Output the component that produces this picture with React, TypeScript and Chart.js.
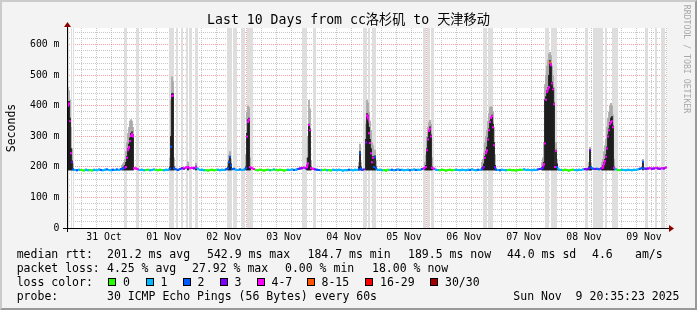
import React, { useEffect, useRef } from 'react';
import { Chart, registerables } from 'chart.js';

Chart.register(...registerables);

// time axis: hours relative to 31 Oct 00:00
const X_MIN = -2.8;
const X_MAX = 237.2;
const Y_MAX = 655;

const DAY_LABELS = ['31 Oct', '01 Nov', '02 Nov', '03 Nov', '04 Nov', '05 Nov', '06 Nov', '07 Nov', '08 Nov', '09 Nov'];
const Y_LABELS = ['0', '100 m', '200 m', '300 m', '400 m', '500 m', '600 m'];

const LOSS_COLORS = ['#26ff00', '#00b8ff', '#0059ff', '#7e00ff', '#ff00ff', '#ff5500', '#ff0000', '#a10000'];
const LOSS_LABELS = ['0', '1', '2', '3', '4-7', '8-15', '16-29', '30/30'];
const LOSS_BOX_X = [108, 145.5, 182.5, 219.5, 256.5, 306.5, 365, 430];

// median rtt (ms) and loss class
const MED_T = [
  -2.8, -2.4, -2.0, -1.6, -1.2, -0.8, -0.4, 0.4, 1.2, 2.0, 2.8, 4.0, 4.8, 5.6, 6.4, 7.2, 8.0, 9.2, 10.0, 10.8,
  11.6, 12.4, 13.2, 14.0, 14.8, 15.6, 16.4, 17.2, 18.0, 18.8, 19.6, 20.4, 20.8, 21.2, 21.6, 22.0, 22.4, 22.8, 23.2, 23.6,
  24.0, 24.8, 25.6, 26.4, 27.2, 28.0, 28.8, 29.6, 30.4, 31.2, 32.0, 32.8, 33.6, 34.4, 35.2, 36.0, 36.8, 37.6, 38.4, 38.8,
  39.2, 39.6, 40.0, 40.8, 41.6, 42.4, 43.2, 44.0, 44.8, 45.6, 46.4, 47.2, 48.0, 48.8, 49.6, 50.4, 51.2, 52.0, 52.8, 53.6,
  54.4, 55.2, 56.0, 56.8, 57.6, 58.4, 59.2, 60.0, 60.8, 61.6, 62.0, 62.4, 62.8, 63.2, 64.0, 64.8, 65.6, 66.4, 67.2, 68.0,
  68.8, 69.2, 69.6, 70.0, 70.4, 71.2, 72.0, 72.8, 73.6, 74.4, 75.2, 76.0, 76.8, 77.6, 78.4, 79.2, 80.0, 80.8, 81.6, 82.4,
  83.2, 84.0, 84.8, 85.6, 86.4, 87.2, 88.0, 88.8, 89.6, 90.4, 91.2, 92.0, 92.8, 93.2, 93.6, 94.0, 94.4, 94.8, 95.6, 96.4,
  97.2, 98.0, 98.8, 99.6, 100.4, 101.2, 102.0, 102.8, 103.6, 104.4, 105.2, 106.0, 106.8, 107.6, 108.4, 109.2, 110.0, 110.8, 111.6, 112.4,
  113.2, 114.0, 114.4, 114.8, 115.2, 116.0, 116.8, 117.2, 117.6, 118.0, 118.4, 118.8, 119.2, 119.6, 120.0, 120.4, 120.8, 121.6, 122.4, 123.2,
  124.0, 124.8, 125.6, 126.4, 127.2, 128.0, 128.8, 129.6, 130.4, 131.2, 132.0, 132.8, 133.6, 134.4, 135.2, 136.0, 136.8, 137.6, 138.4, 139.2,
  140.0, 140.8, 141.2, 141.6, 142.0, 142.4, 142.8, 143.2, 144.0, 144.8, 145.6, 146.4, 147.2, 148.0, 148.8, 149.6, 150.4, 151.2, 152.0, 152.8,
  153.6, 154.4, 155.2, 156.0, 156.8, 157.6, 158.4, 159.2, 160.0, 160.8, 161.6, 162.4, 163.2, 163.6, 164.0, 164.4, 164.8, 165.2, 165.6, 166.0,
  166.4, 166.8, 167.2, 167.6, 168.0, 168.4, 168.8, 169.6, 170.4, 171.2, 172.0, 172.8, 173.6, 174.4, 175.2, 176.0, 176.8, 177.6, 178.4, 179.2,
  180.0, 180.8, 181.6, 182.4, 183.2, 184.0, 184.8, 185.6, 186.4, 187.2, 187.6, 188.0, 188.4, 188.8, 189.2, 189.6, 190.0, 190.4, 190.8, 191.2,
  191.6, 192.0, 192.4, 192.8, 193.2, 194.0, 194.8, 195.6, 196.4, 197.2, 198.0, 198.8, 199.6, 200.4, 201.2, 202.0, 202.8, 203.6, 204.4, 205.2,
  206.0, 206.4, 206.8, 207.6, 208.4, 209.2, 210.0, 210.8, 211.6, 212.0, 212.4, 212.8, 213.2, 213.6, 214.0, 214.4, 214.8, 215.2, 215.6, 216.0,
  216.8, 217.6, 218.4, 219.2, 220.0, 220.8, 221.6, 222.4, 223.2, 224.0, 224.8, 225.6, 226.4, 227.2, 227.6, 228.0, 228.8, 229.6, 230.4, 231.2,
  232.0, 232.8, 233.6, 234.4, 235.2, 236.0, 236.8,
];
const MED_V = [
  278, 400, 408, 350, 245, 215, 192, 190, 189, 191, 190, 188, 191, 189, 190, 188, 191, 189, 192, 190,
  189, 191, 192, 190, 189, 191, 190, 192, 190, 193, 195, 197, 200, 230, 255, 265, 285, 301, 307, 300,
  196, 195, 192, 190, 191, 189, 190, 191, 189, 190, 192, 190, 189, 191, 190, 189, 191, 190, 195, 266,
  432, 434, 196, 192, 190, 193, 196, 194, 198, 200, 196, 197, 195, 200, 194, 190, 191, 189, 190, 188,
  190, 191, 189, 190, 191, 189, 191, 190, 192, 196, 215, 233, 205, 192, 194, 191, 190, 192, 190, 191,
  196, 300, 347, 355, 200, 196, 193, 190, 189, 191, 190, 188, 190, 191, 189, 190, 192, 190, 189, 191,
  190, 188, 190, 191, 190, 192, 190, 191, 193, 195, 196, 198, 195, 200, 212, 337, 320, 196, 194, 192,
  191, 190, 189, 190, 191, 189, 190, 188, 191, 190, 189, 191, 190, 188, 190, 189, 191, 190, 189, 191,
  190, 192, 245, 196, 190, 192, 280, 369, 360, 310, 278, 245, 215, 230, 200, 232, 196, 190, 191, 189,
  190, 188, 191, 190, 191, 189, 190, 192, 190, 191, 189, 190, 191, 189, 190, 192, 190, 191, 190, 193,
  195, 200, 255, 290, 318, 326, 300, 197, 194, 191, 190, 189, 191, 190, 188, 190, 191, 189, 190, 191,
  190, 189, 191, 190, 189, 191, 190, 192, 190, 189, 191, 190, 193, 196, 200, 230, 245, 255, 290, 320,
  347, 360, 367, 330, 271, 200, 191, 190, 189, 191, 190, 189, 190, 191, 189, 190, 188, 190, 191, 190,
  192, 190, 191, 190, 189, 191, 190, 192, 193, 195, 198, 210, 277, 420, 445, 455, 462, 543, 533, 473,
  454, 405, 200, 252, 200, 191, 190, 189, 191, 190, 188, 190, 191, 190, 189, 191, 190, 192, 193, 192,
  196, 255, 198, 194, 193, 194, 192, 195, 198, 210, 220, 233, 260, 300, 320, 340, 347, 350, 330, 197,
  192, 190, 189, 191, 190, 189, 191, 190, 189, 191, 190, 192, 194, 196, 217, 195, 194, 195, 196, 194,
  195, 197, 195, 194, 196, 195, 198,
];
const MED_L = [
  4, 4, 4, 4, 4, 3, 2, 1, 2, 1, 0, 0, 1, 1, 0, 0, 1, 1, 1, 2,
  1, 1, 2, 1, 1, 2, 1, 2, 1, 2, 2, 3, 4, 4, 4, 4, 4, 4, 4, 4,
  4, 4, 4, 1, 1, 1, 0, 0, 1, 1, 1, 0, 0, 0, 0, 1, 1, 1, 2, 2,
  4, 4, 2, 2, 2, 2, 3, 3, 4, 4, 4, 4, 3, 4, 1, 1, 1, 1, 0, 0,
  0, 0, 0, 0, 1, 1, 1, 1, 2, 2, 2, 2, 2, 2, 2, 1, 1, 2, 1, 1,
  2, 4, 4, 4, 4, 4, 4, 0, 0, 0, 0, 0, 0, 0, 1, 0, 1, 0, 0, 0,
  0, 0, 0, 1, 1, 1, 2, 1, 2, 3, 3, 4, 3, 4, 4, 4, 4, 4, 4, 3,
  2, 2, 1, 0, 0, 1, 0, 0, 1, 1, 1, 1, 1, 1, 1, 1, 2, 1, 1, 1,
  1, 2, 2, 2, 2, 3, 3, 4, 4, 4, 4, 4, 4, 4, 2, 2, 2, 1, 1, 1,
  0, 0, 0, 1, 2, 1, 2, 1, 2, 1, 1, 1, 1, 2, 1, 1, 2, 1, 1, 2,
  4, 4, 4, 4, 4, 4, 4, 4, 4, 1, 1, 0, 0, 0, 0, 0, 0, 0, 0, 1,
  1, 1, 1, 1, 1, 1, 2, 1, 1, 1, 2, 1, 2, 3, 3, 4, 4, 4, 4, 4,
  4, 4, 4, 4, 4, 3, 2, 1, 2, 1, 1, 1, 0, 0, 0, 0, 0, 0, 0, 0,
  1, 1, 1, 1, 1, 1, 1, 2, 3, 2, 3, 4, 4, 4, 4, 4, 4, 5, 4, 4,
  4, 4, 4, 4, 2, 1, 1, 0, 0, 0, 0, 0, 0, 1, 1, 1, 1, 1, 3, 3,
  3, 3, 2, 2, 3, 2, 2, 3, 4, 4, 4, 4, 4, 4, 4, 4, 4, 4, 4, 4,
  1, 0, 0, 1, 1, 1, 1, 1, 1, 1, 1, 1, 2, 2, 2, 2, 3, 3, 4, 3,
  3, 4, 3, 3, 4, 3, 4,
];

// smoke columns around the spikes (ms)
const SMOKE_BASE = 190;
const SMOKE_T = [
  -2.8, -2.4, -2.0, -1.6, -1.2, -0.8, -0.4,
  19.2, 19.6, 20.0, 20.4, 20.8, 21.2, 21.6, 22.0, 22.4, 22.8, 23.2, 23.6,
  38.4, 38.8, 39.2, 39.6, 40.0, 45.6, 48.8,
  61.6, 62.0, 62.4, 62.8,
  68.8, 69.2, 69.6, 70.0, 70.4,
  93.2, 93.6, 94.0, 94.4, 94.8,
  114.0, 114.4, 114.8,
  116.8, 117.2, 117.6, 118.0, 118.4, 118.8, 119.2, 119.6, 120.0, 120.4, 120.8,
  140.4, 140.8, 141.2, 141.6, 142.0, 142.4, 142.8, 143.2,
  163.2, 163.6, 164.0, 164.4, 164.8, 165.2, 165.6, 166.0, 166.4, 166.8, 167.2, 167.6, 168.0, 168.4,
  187.2, 187.6, 188.0, 188.4, 188.8, 189.2, 189.6, 190.0, 190.4, 190.8, 191.2, 191.6, 192.0, 192.4, 192.8, 193.2,
  206.0, 206.4, 206.8,
  211.2, 211.6, 212.0, 212.4, 212.8, 213.2, 213.6, 214.0, 214.4, 214.8, 215.2, 215.6, 216.0,
  227.6,
];
const SMOKE_DARK = [
  290, 410, 415, 360, 260, 220, 195,
  195, 197, 200, 205, 215, 235, 260, 275, 295, 310, 315, 305,
  200, 300, 440, 440, 200, 200, 203,
  200, 220, 235, 210,
  200, 310, 355, 360, 200,
  205, 230, 340, 325, 200,
  200, 250, 200,
  290, 375, 370, 330, 290, 260, 230, 235, 210, 236, 200,
  198, 205, 260, 295, 320, 331, 305, 200,
  197, 200, 210, 235, 250, 265, 295, 325, 350, 362, 370, 340, 280, 205,
  197, 200, 215, 420, 430, 450, 460, 500, 548, 538, 478, 458, 410, 205, 255, 210,
  200, 255, 200,
  198, 205, 215, 225, 240, 265, 305, 325, 345, 360, 365, 335, 200,
  217,
];
const SMOKE_HI = [
  330, 460, 450, 420, 330, 260, 210,
  205, 210, 215, 225, 250, 280, 310, 330, 350, 355, 350, 330,
  230, 420, 495, 480, 230, 217, 212,
  215, 240, 250, 225,
  240, 380, 400, 395, 230,
  230, 300, 418, 390, 220,
  215, 275, 215,
  340, 418, 410, 380, 350, 320, 280, 270, 240, 255, 220,
  215, 240, 300, 330, 345, 353, 340, 230,
  215, 225, 245, 280, 300, 320, 350, 375, 395, 398, 396, 380, 330, 240,
  215, 230, 280, 470, 500, 530, 550, 570, 575, 565, 530, 500, 460, 230, 280, 225,
  215, 265, 212,
  215, 225, 250, 270, 290, 330, 360, 380, 400, 408, 400, 370, 225,
  225,
];

// periods with heavy loss (full-height grey), [start, end] hours
const BANDS = [
  [-2.4, -2.0], [-1.2, -0.8], [-0.4, 0.0], [20.0, 21.2], [24.8, 26.0], [38.0, 40.0], [40.8, 41.6],
  [42.8, 43.6], [44.8, 45.6], [46.0, 47.2], [48.4, 49.6], [61.2, 63.2], [63.6, 65.2], [66.8, 68.4],
  [69.2, 71.6], [91.2, 93.2], [95.6, 96.8], [115.6, 117.2], [117.6, 118.4], [119.2, 120.8],
  [139.6, 140.8], [141.2, 142.4], [142.8, 144.0], [163.6, 165.2], [165.6, 167.6], [188.4, 190.0],
  [190.8, 193.2], [204.4, 205.6], [207.6, 211.6], [212.4, 213.2], [215.2, 217.6], [228.4, 229.6],
  [232.4, 233.2], [234.8, 236.4],
];

const X_TICKS = Array.from({ length: 40 }, (_, i) => i * 6);
const Y_TICKS = Array.from({ length: 33 }, (_, i) => i * 20);

const MONO = '"DejaVu Sans Mono", "Noto Sans CJK SC", monospace';
const GRID_MINOR = 'rgba(175,175,175,0.7)';
const GRID_MAJOR = 'rgba(255,80,80,0.55)';
const BAND_COLOR = '#dedede';

const rrdPlugin = {
  id: 'rrdFrame',
  beforeDraw(chart: any) {
    const { ctx, chartArea } = chart;
    const { left, top, right, bottom } = chartArea;
    ctx.save();
    ctx.fillStyle = '#ffffff';
    ctx.fillRect(left, top, right - left, bottom - top);
    ctx.restore();
  },
  afterDraw(chart: any) {
    const { ctx, chartArea } = chart;
    const { left, top, right, bottom } = chartArea;
    ctx.save();
    ctx.setLineDash([]);
    ctx.strokeStyle = '#000000';
    ctx.lineWidth = 1;
    ctx.beginPath();
    ctx.moveTo(left - 4, bottom + 0.5);
    ctx.lineTo(right + 3, bottom + 0.5);
    ctx.moveTo(left + 0.5, bottom + 4);
    ctx.lineTo(left + 0.5, top - 2);
    ctx.stroke();
    ctx.fillStyle = '#8b0000';
    ctx.beginPath();
    ctx.moveTo(right + 2, bottom - 3);
    ctx.lineTo(right + 7, bottom + 0.5);
    ctx.lineTo(right + 2, bottom + 4);
    ctx.closePath();
    ctx.fill();
    ctx.beginPath();
    ctx.moveTo(left - 3, top - 1);
    ctx.lineTo(left + 0.5, top - 6);
    ctx.lineTo(left + 4, top - 1);
    ctx.closePath();
    ctx.fill();
    ctx.restore();
  },
};

export default function App() {
  const ref = useRef<HTMLCanvasElement>(null);

  useEffect(() => {
    const bandData: any[] = [{ x: X_MIN, y: 0 }];
    BANDS.forEach(([a, b]) => {
      bandData.push({ x: a, y: Y_MAX });
      bandData.push({ x: b, y: 0 });
    });
    bandData.push({ x: X_MAX, y: 0 });

    const medData = MED_T.map((t, i) => ({ x: t, y: MED_V[i] }));
    const darkData = SMOKE_T.map((t, i) => ({ x: t, y: [SMOKE_BASE, SMOKE_DARK[i]] }));
    const hiData = SMOKE_T.map((t, i) => ({ x: t, y: [SMOKE_BASE, SMOKE_HI[i]] }));

    const chart = new Chart(ref.current as HTMLCanvasElement, {
      type: 'line',
      data: {
        datasets: [
          {
            type: 'line',
            label: 'median',
            data: medData,
            order: 0,
            borderWidth: 2,
            fill: false,
            pointStyle: 'rect',
            pointRadius: 1.4,
            pointBorderWidth: 0,
            pointBackgroundColor: (c: any) => LOSS_COLORS[MED_L[c.dataIndex]],
            backgroundColor: LOSS_COLORS[0],
            borderColor: LOSS_COLORS[0],
            segment: {
              borderColor: (c: any) =>
                Math.abs(c.p1.parsed.y - c.p0.parsed.y) > 12 ? 'rgba(0,0,0,0)' : LOSS_COLORS[MED_L[c.p1DataIndex]],
            },
            tension: 0,
          } as any,
          {
            type: 'bar',
            label: 'dark smoke',
            data: darkData,
            order: 1,
            backgroundColor: '#1c1c1c',
            borderColor: '#1c1c1c',
            borderWidth: 0,
            barThickness: 1.1,
            grouped: false,
          } as any,
          {
            type: 'bar',
            label: 'smoke',
            data: hiData,
            order: 2,
            backgroundColor: '#a9a9a9',
            borderColor: '#a9a9a9',
            borderWidth: 0,
            barThickness: 1.1,
            grouped: false,
          } as any,
          {
            type: 'line',
            label: 'loss',
            data: bandData,
            order: 3,
            stepped: true,
            fill: 'origin',
            backgroundColor: BAND_COLOR,
            borderColor: 'rgba(0,0,0,0)',
            borderWidth: 0,
            pointRadius: 0,
          } as any,
        ],
      },
      options: {
        responsive: false,
        devicePixelRatio: 1,
        animation: false,
        events: [],
        layout: { padding: { left: 0, right: 30, top: 28, bottom: 0 } },
        plugins: { legend: { display: false }, tooltip: { enabled: false }, title: { display: false } },
        scales: {
          x: {
            type: 'linear',
            min: X_MIN,
            max: X_MAX,
            offset: false,
            z: 1,
            afterBuildTicks: (s: any) => {
              s.ticks = X_TICKS.map((v) => ({ value: v }));
            },
            afterFit: (s: any) => {
              s.height = 82;
            },
            grid: {
              drawTicks: false,
              lineWidth: 1,
              color: (c: any) => (c.tick && c.tick.value % 24 === 0 ? GRID_MAJOR : GRID_MINOR),
            },
            border: { display: false, dash: [1, 1] },
            ticks: {
              autoSkip: false,
              maxRotation: 0,
              padding: 4,
              color: '#000',
              font: { family: MONO, size: 9.8 },
              callback: (v: any) => (v % 24 === 12 ? DAY_LABELS[(v - 12) / 24] : ''),
            },
          },
          y: {
            type: 'linear',
            min: 0,
            max: Y_MAX,
            z: 1,
            afterBuildTicks: (s: any) => {
              s.ticks = Y_TICKS.map((v) => ({ value: v }));
            },
            afterFit: (s: any) => {
              s.width = 67;
            },
            grid: {
              drawTicks: false,
              lineWidth: 1,
              color: (c: any) => (c.tick && c.tick.value % 100 === 0 ? GRID_MAJOR : GRID_MINOR),
            },
            border: { display: false, dash: [1, 1] },
            ticks: {
              autoSkip: false,
              padding: 7.5,
              color: '#000',
              font: { family: MONO, size: 9.8 },
              callback: (v: any) => (v % 100 === 0 ? Y_LABELS[v / 100] : ''),
            },
          },
        },
      },
      plugins: [rrdPlugin],
    } as any);
    return () => chart.destroy();
  }, []);

  const txt = (left: number, cy: number, s: string, size = 11.5) => (
    <span
      key={s + left + cy}
      style={{
        position: 'absolute',
        left,
        top: cy - 7.3,
        fontSize: size,
        lineHeight: '14px',
        whiteSpace: 'pre',
        color: '#000',
        fontFamily: MONO,
      }}
    >
      {s}
    </span>
  );

  return (
    <div
      style={{
        position: 'absolute',
        left: 0,
        top: 0,
        width: 697,
        height: 310,
        background: '#f3f3f3',
        overflow: 'hidden',
        fontFamily: MONO,
      }}
    >
      <canvas ref={ref} width={697} height={310} style={{ position: 'absolute', left: 0, top: 0, width: 697, height: 310 }} />
      <div
        style={{
          position: 'absolute',
          left: 0,
          top: 0,
          width: 697,
          height: 310,
          boxSizing: 'border-box',
          borderTop: '2px solid #cbcbcb',
          borderLeft: '2px solid #cbcbcb',
          borderRight: '2px solid #999999',
          borderBottom: '2px solid #999999',
          pointerEvents: 'none',
        }}
      />
      <div
        style={{
          position: 'absolute',
          left: 0,
          width: 697,
          top: 12.4,
          textAlign: 'center',
          fontSize: 13.2,
          lineHeight: '16px',
          whiteSpace: 'pre',
          color: '#000',
          fontFamily: MONO,
        }}
      >
        Last 10 Days from cc洛杉矶 to 天津移动
      </div>
      <div
        style={{
          position: 'absolute',
          left: 10.5,
          top: 128,
          transform: 'translate(-50%, -50%) rotate(-90deg)',
          fontSize: 11.5,
          lineHeight: '14px',
          whiteSpace: 'pre',
          color: '#000',
          fontFamily: MONO,
        }}
      >
        Seconds
      </div>
      <div
        style={{
          position: 'absolute',
          left: 687,
          top: 59,
          transform: 'translate(-50%, -50%) rotate(90deg)',
          fontSize: 8.2,
          lineHeight: '10px',
          whiteSpace: 'pre',
          color: '#a8a8a8',
          fontFamily: MONO,
        }}
      >
        RRDTOOL / TOBI OETIKER
      </div>
      {txt(16.7, 254.7, 'median rtt:')}
      {txt(107, 254.7, '201.2 ms avg')}
      {txt(207, 254.7, '542.9 ms max')}
      {txt(307.5, 254.7, '184.7 ms min')}
      {txt(408, 254.7, '189.5 ms now')}
      {txt(507, 254.7, '44.0 ms sd')}
      {txt(592, 254.7, '4.6')}
      {txt(635, 254.7, 'am/s')}
      {txt(16.7, 268.3, 'packet loss:')}
      {txt(107, 268.3, '4.25 % avg')}
      {txt(192, 268.3, '27.92 % max')}
      {txt(285, 268.3, '0.00 % min')}
      {txt(372, 268.3, '18.00 % now')}
      {txt(16.7, 282.3, 'loss color:')}
      {LOSS_LABELS.map((lab, i) => (
        <React.Fragment key={lab}>
          <span
            style={{
              position: 'absolute',
              left: LOSS_BOX_X[i],
              top: 278.3,
              width: 8,
              height: 8,
              boxSizing: 'border-box',
              border: '1px solid #000',
              background: LOSS_COLORS[i],
            }}
          />
          {txt(LOSS_BOX_X[i] + 15, 282.3, lab)}
        </React.Fragment>
      ))}
      {txt(16.7, 296.3, 'probe:')}
      {txt(107, 296.3, '30 ICMP Echo Pings (56 Bytes) every 60s')}
      {txt(513.3, 296.3, 'Sun Nov  9 20:35:23 2025')}
    </div>
  );
}
